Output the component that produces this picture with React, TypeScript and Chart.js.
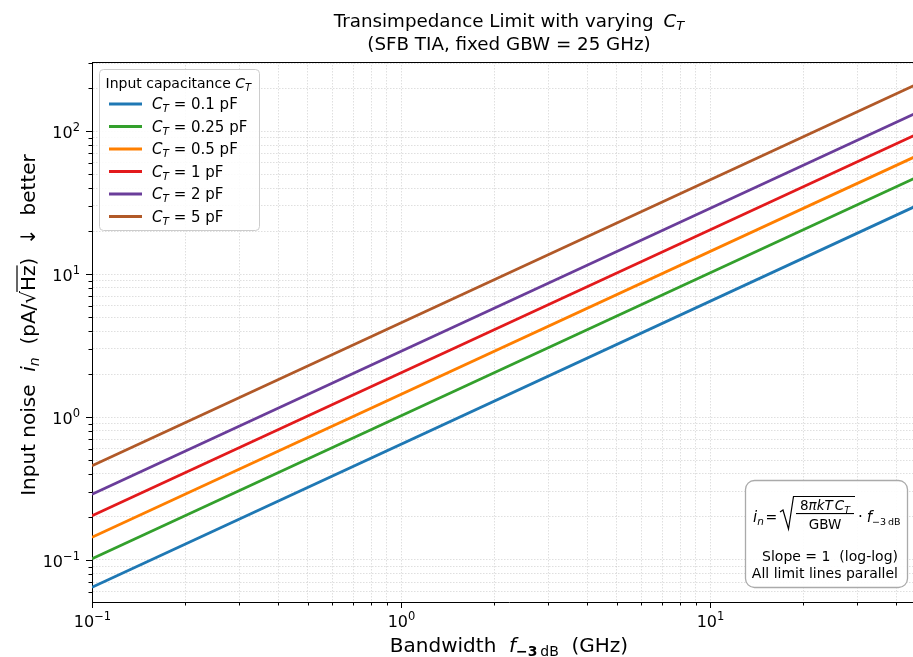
import React, { useEffect, useRef } from 'react';
import { Chart, registerables } from 'chart.js';

Chart.register(...registerables);

// ---------- data ----------
const bandwidthGHz = [0.1, 50];
const capacitanceLabels = ['0.1', '0.25', '0.5', '1', '2', '5'];
const noiseCT01 = [0.0645, 32.3];
const noiseCT025 = [0.102, 51.0];
const noiseCT05 = [0.144, 72.0];
const noiseCT1 = [0.204, 102];
const noiseCT2 = [0.288, 144];
const noiseCT5 = [0.456, 228];
const seriesValues = [noiseCT01, noiseCT025, noiseCT05, noiseCT1, noiseCT2, noiseCT5];
const seriesColors = ['#1f78b4', '#33a02c', '#ff7f00', '#e31a1c', '#6a3d9a', '#b15928'];
const xLimits = [0.1, 50];
const yLimits = [0.0508, 305];

const FONT = '"DejaVu Sans"';

function isNiceTick(v: number) {
  const e = Math.floor(Math.log10(v) + 1e-9);
  const s = v / Math.pow(10, e);
  return Math.abs(s - Math.round(s)) < 1e-6;
}
function isDecade(v: number) {
  const l = Math.log10(v);
  return Math.abs(l - Math.round(l)) < 1e-6;
}
function exponentText(v: number) {
  const e = Math.round(Math.log10(v));
  return (e < 0 ? '\u2212' : '') + String(Math.abs(e));
}

type Seg = { t: string; s: number; i?: boolean; dy?: number; over?: boolean; b?: boolean; gap?: number };
function segFont(g: Seg) {
  return `${g.i ? 'italic ' : ''}${g.b ? 'bold ' : ''}${g.s}px ${FONT}`;
}
function segWidth(ctx: CanvasRenderingContext2D, g: Seg) {
  if (g.gap !== undefined) return g.gap;
  ctx.font = segFont(g);
  return ctx.measureText(g.t).width;
}
function richWidth(ctx: CanvasRenderingContext2D, segs: Seg[]) {
  let w = 0;
  for (const g of segs) w += segWidth(ctx, g);
  return w;
}
function drawRich(ctx: CanvasRenderingContext2D, segs: Seg[], x: number, y: number, align: 'left' | 'center' | 'right') {
  const w = richWidth(ctx, segs);
  let cx = align === 'center' ? x - w / 2 : align === 'right' ? x - w : x;
  ctx.textAlign = 'left';
  ctx.textBaseline = 'alphabetic';
  for (const g of segs) {
    const gw = segWidth(ctx, g);
    if (g.gap === undefined) {
      ctx.font = segFont(g);
      ctx.fillText(g.t, cx, y + (g.dy || 0));
      if (g.over) ctx.fillRect(cx - 1, y + (g.dy || 0) - g.s * 0.93, gw + 1, 1.2);
    }
    cx += gw;
  }
  return w;
}

const decorPlugin = {
  id: 'decor',
  afterDraw(chart: any) {
    const ctx: CanvasRenderingContext2D = chart.ctx;
    const { left, right, top, bottom } = chart.chartArea;
    const xs = chart.scales.x;
    const ys = chart.scales.y;
    ctx.save();
    ctx.fillStyle = '#000';
    ctx.strokeStyle = '#000';

    // top spine
    ctx.lineWidth = 1;
    ctx.beginPath();
    ctx.moveTo(left, top + 0.5);
    ctx.lineTo(right, top + 0.5);
    ctx.stroke();

    // tick marks + tick labels
    for (const t of xs.ticks) {
      if (!isNiceTick(t.value)) continue;
      const px = Math.round(xs.getPixelForValue(t.value)) + 0.5;
      const major = isDecade(t.value);
      ctx.beginPath();
      ctx.moveTo(px, bottom);
      ctx.lineTo(px, bottom + (major ? 6 : 3.5));
      ctx.stroke();
      if (major) {
        drawRich(ctx, [
          { t: '10', s: 16 },
          { t: exponentText(t.value), s: 11.5, dy: -7 },
        ], px, bottom + 25, 'center');
      }
    }
    for (const t of ys.ticks) {
      if (!isNiceTick(t.value)) continue;
      const py = Math.round(ys.getPixelForValue(t.value)) + 0.5;
      const major = isDecade(t.value);
      ctx.beginPath();
      ctx.moveTo(left, py);
      ctx.lineTo(left - (major ? 6 : 3.5), py);
      ctx.stroke();
      if (major) {
        drawRich(ctx, [
          { t: '10', s: 16 },
          { t: exponentText(t.value), s: 11.5, dy: -7 },
        ], left - 12, py + 6, 'right');
      }
    }

    // title
    const titleCx = (left + right) / 2;
    drawRich(ctx, [
      { t: 'Transimpedance Limit with varying', s: 18.3 },
      { gap: 10, t: '', s: 18 },
      { t: 'C', s: 18.3, i: true },
      { t: 'T', s: 13, i: true, dy: 3 },
    ], titleCx, 27, 'center');
    drawRich(ctx, [{ t: '(SFB TIA, fixed GBW = 25 GHz)', s: 18.3 }], titleCx, 50, 'center');

    // x axis label
    drawRich(ctx, [
      { t: 'Bandwidth  ', s: 20 },
      { t: 'f', s: 20, i: true },
      { t: '\u22123', s: 14, dy: 4, b: true },
      { t: '\u2009dB', s: 14, dy: 4 },
      { t: '  (GHz)', s: 20 },
    ], titleCx, 652, 'center');

    // y axis label
    ctx.save();
    ctx.translate(35, 325);
    ctx.rotate(-Math.PI / 2);
    drawRich(ctx, [
      { t: 'Input noise  ', s: 20 },
      { t: 'i', s: 20, i: true },
      { t: 'n', s: 14, i: true, dy: 4 },
      { t: '  (pA/', s: 20 },
      { t: '\u221A', s: 20 },
      { t: 'Hz', s: 20, over: true },
      { t: ')  \u2193  better', s: 20 },
    ], 0, 0, 'center');
    ctx.restore();

    // legend
    const lx = 99.5, ly = 69.5, lw = 160, lh = 161;
    ctx.beginPath();
    ctx.roundRect(lx, ly, lw, lh, 4);
    ctx.fillStyle = 'rgba(255,255,255,0.85)';
    ctx.fill();
    ctx.strokeStyle = '#cccccc';
    ctx.lineWidth = 1;
    ctx.stroke();
    ctx.fillStyle = '#000';
    drawRich(ctx, [
      { t: 'Input capacitance ', s: 14 },
      { t: 'C', s: 14, i: true },
      { t: 'T', s: 10, i: true, dy: 2.5 },
    ], lx + 6, 88, 'left');
    chart.data.datasets.forEach((ds: any, k: number) => {
      const yy = 104 + k * 22.5;
      ctx.strokeStyle = ds.borderColor;
      ctx.lineWidth = 3;
      ctx.beginPath();
      ctx.moveTo(109, yy);
      ctx.lineTo(142, yy);
      ctx.stroke();
      ctx.fillStyle = '#000';
      drawRich(ctx, [
        { t: 'C', s: 15, i: true },
        { t: 'T', s: 10.5, i: true, dy: 3 },
        { t: ` = ${capacitanceLabels[k]} pF`, s: 15 },
      ], 152, yy + 5, 'left');
    });

    // formula inset
    const bx = 745.5, by = 480.5, bw = 162, bh = 107;
    ctx.beginPath();
    ctx.roundRect(bx, by, bw, bh, 9);
    ctx.fillStyle = 'rgba(255,255,255,0.9)';
    ctx.fill();
    ctx.strokeStyle = '#aaaaaa';
    ctx.lineWidth = 1.3;
    ctx.stroke();
    ctx.fillStyle = '#000';
    drawRich(ctx, [
      { t: 'i', s: 15, i: true },
      { t: 'n', s: 10.5, i: true, dy: 3 },
    ], 753, 522, 'left');
    drawRich(ctx, [{ t: '=', s: 14 }], 765.5, 522, 'left');
    // radical sign
    ctx.strokeStyle = '#000';
    ctx.lineWidth = 1.2;
    ctx.beginPath();
    ctx.moveTo(780, 512);
    ctx.lineTo(783, 510);
    ctx.lineTo(788.5, 529);
    ctx.lineTo(793.5, 496.5);
    ctx.lineTo(855, 496.5);
    ctx.stroke();
    drawRich(ctx, [
      { t: '8', s: 13.5 },
      { t: '\u03C0kT', s: 13.5, i: true },
      { gap: 2, t: '', s: 13 },
      { t: 'C', s: 13.5, i: true },
      { t: 'T', s: 9.5, i: true, dy: 2.5 },
    ], 825, 510, 'center');
    ctx.fillRect(796, 513, 58, 1.1);
    drawRich(ctx, [{ t: 'GBW', s: 13.5 }], 825, 529, 'center');
    drawRich(ctx, [
      { t: '\u00B7', s: 15 },
      { gap: 4, t: '', s: 15 },
      { t: 'f', s: 15, i: true },
      { t: '\u22123\u2009dB', s: 9.5, dy: 3 },
    ], 858, 522, 'left');
    drawRich(ctx, [{ t: 'Slope = 1  (log-log)', s: 14 }], 898, 561, 'right');
    drawRich(ctx, [{ t: 'All limit lines parallel', s: 14 }], 898, 578, 'right');

    ctx.restore();
  },
};

const gridColor = (c: any) => (c.tick && isNiceTick(c.tick.value) ? 'rgba(0,0,0,0.16)' : 'rgba(0,0,0,0)');

export default function App() {
  const ref = useRef<HTMLCanvasElement | null>(null);
  useEffect(() => {
    if (!ref.current) return;
    Chart.defaults.font.family = FONT;
    const chart = new Chart(ref.current, {
      type: 'line',
      data: {
        datasets: seriesValues.map((vals, k) => ({
          label: `C_T = ${capacitanceLabels[k]} pF`,
          data: bandwidthGHz.map((x, j) => ({ x, y: vals[j] })),
          borderColor: seriesColors[k],
          backgroundColor: seriesColors[k],
          borderWidth: 2.8,
          pointRadius: 0,
          tension: 0,
        })),
      },
      options: {
        animation: false,
        responsive: false,
        layout: { padding: { top: 62, left: 0, right: 0, bottom: 0 } },
        plugins: { legend: { display: false }, title: { display: false }, tooltip: { enabled: false } },
        scales: {
          x: {
            type: 'logarithmic',
            min: xLimits[0],
            max: xLimits[1],
            afterFit: (s: any) => { s.height = 55; s.paddingLeft = 0; s.paddingRight = 0; },
            grid: { color: gridColor, lineWidth: 0.8, drawTicks: false },
            border: { display: true, color: '#000', width: 1, dash: [1.5, 1.5] },
            ticks: { display: false, autoSkip: false, maxRotation: 0, padding: 0 },
          },
          y: {
            type: 'logarithmic',
            min: yLimits[0],
            max: yLimits[1],
            afterFit: (s: any) => { s.width = 92; s.paddingTop = 0; s.paddingBottom = 0; },
            grid: { color: gridColor, lineWidth: 0.8, drawTicks: false },
            border: { display: true, color: '#000', width: 1, dash: [1.5, 1.5] },
            ticks: { display: false, autoSkip: false, padding: 0 },
          },
        },
      },
      plugins: [decorPlugin],
    } as any);
    return () => chart.destroy();
  }, []);
  return (
    <div style={{ position: 'fixed', left: 0, top: 0, width: 913, height: 657, overflow: 'hidden', background: '#fff' }}>
      <canvas ref={ref} width={926} height={657} style={{ display: 'block' }} />
    </div>
  );
}
